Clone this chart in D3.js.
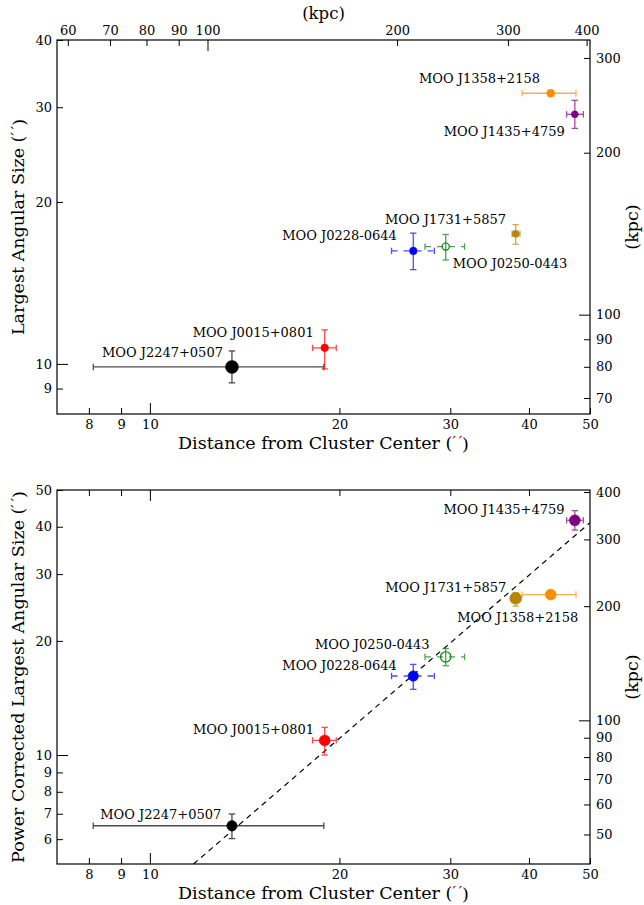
<!DOCTYPE html>
<html><head><meta charset="utf-8">
<script src="https://cdn.jsdelivr.net/npm/d3@7"></script>
<style>body{margin:0;background:#fff}</style>
</head><body><svg id="c" width="644" height="905" xmlns="http://www.w3.org/2000/svg"></svg>
<script>
// ---------------- data ----------------
const clusters = ["MOO J2247+0507","MOO J0015+0801","MOO J0228-0644","MOO J0250-0443","MOO J1731+5857","MOO J1358+2158","MOO J1435+4759"];
const distArcsec   = [13.5, 18.95, 26.2, 29.5, 38.1, 43.3, 47.3];
const distLo       = [8.13, 18.13, 24.2, 27.35, 37.6, 39.0, 45.9];
const distHi       = [18.89, 19.77, 28.3, 31.6, 38.7, 47.5, 48.8];
const lasArcsec    = [9.87, 10.71, 16.22, 16.52, 17.45, 31.85, 29.1];
const lasLo        = [9.22, 9.79, 14.97, 15.6, 16.69, 31.6, 27.4];
const lasHi        = [10.57, 11.57, 17.5, 17.4, 18.15, 32.1, 30.9];
const plasArcsec   = [6.51, 10.93, 16.16, 18.14, 25.9, 26.5, 41.6];
const plasLo       = [6.02, 10.0, 14.9, 17.2, 24.7, 26.3, 39.2];
const plasHi       = [6.99, 11.83, 17.34, 19.1, 26.8, 26.7, 44.1];
const fitX = [11.73, 50];
const fitY = [5.16, 41.0];
const kpcPerArcsec = 8.1;
const xTicks = [8, 9, 10, 20, 30, 40, 50];
const xKpcTicks = [60, 70, 80, 90, 100, 200, 300, 400];
const yTopTicks = [9, 10, 20, 30, 40];
const yTopKpcTicks = [70, 80, 90, 100, 200, 300];
const yBotTicks = [6, 7, 8, 9, 10, 20, 30, 40, 50];
const yBotKpcTicks = [50, 60, 70, 80, 90, 100, 200, 300, 400];
const xDomain = [7.12, 50];
const yTopDomain = [8.07, 40];
const yBotDomain = [5.16, 50];

// ---------------- styles ----------------
const colors = ["#000000", "#ff0000", "#0000ff", "#008000", "#b8860b", "#ff8c00", "#800080"];
const hollow = [false, false, false, true, false, false, false];
const dashedX = [false, false, true, true, false, false, false];
const rTop = [6.5, 3.8, 3.8, 3.6, 3.6, 4.0, 3.5];
const rBot = [5.2, 5.5, 5.2, 5.2, 6.0, 5.5, 5.5];
// label offsets [dx, dy(center), anchor]
const labTop = [[-9,-15,"end"],[-11,-15,"end"],[-16.5,-15.3,"end"],[7,16.6,"start"],[-9.7,-14.7,"end"],[-10.7,-14.3,"end"],[-10,16.7,"end"]];
const labBot = [[-10.6,-11.7,"end"],[-10.7,-11,"end"],[-16.4,-11,"end"],[-16.2,-12.3,"end"],[-9.4,-11,"end"],[27.6,22.4,"end"],[-10.3,-11.3,"end"]];

const FONT = "DejaVu Serif";
const svg = d3.select("#c");
svg.append("rect").attr("width",644).attr("height",905).attr("fill","#fff");

const L = 57, R = 590;
const x = d3.scaleLog().domain(xDomain).range([L, R]);

function styleAxis(g, major, attr, sign) {
  g.attr("font-family", FONT).attr("font-size", 13);
  g.select(".domain").remove();
  g.selectAll(".tick line").attr("stroke","#000").attr("stroke-width",1)
    .attr(attr, d => sign * (major.includes(d) ? 11 : 6));
  g.selectAll(".tick text").attr("fill","#000");
}

function labelWithPrimes(t, base) {
  t.append("tspan").text(base + " (");
  t.append("tspan").attr("font-style","italic").attr("dy","-0.15em").attr("font-size","0.85em").text("\u2032\u2009\u2032");
  t.append("tspan").attr("dy","0.15em").text(")");
}

function panel(top, bottom, yDomain, yTicks, yKpcTicks, yVals, yLo, yHi, rad, labs, ylabel, isTop) {
  const y = d3.scaleLog().domain(yDomain).range([bottom, top]);
  const yk = d3.scaleLog().domain(yDomain.map(v => v * kpcPerArcsec)).range([bottom, top]);
  const g = svg.append("g");
  const clipId = "clip" + top;
  svg.append("clipPath").attr("id", clipId).append("rect").attr("x", L).attr("y", top).attr("width", R - L).attr("height", bottom - top);

  // axes
  const gl = g.append("g").attr("transform", `translate(${L},0)`)
    .call(d3.axisLeft(y).tickValues(yTicks).tickFormat(d3.format("d")).tickSizeOuter(0).tickSizeInner(-6).tickPadding(5));
  styleAxis(gl, [10], "x2", 1);
  const gb = g.append("g").attr("transform", `translate(0,${bottom})`)
    .call(d3.axisBottom(x).tickValues(xTicks).tickFormat(d3.format("d")).tickSizeOuter(0).tickSizeInner(-6).tickPadding(6));
  styleAxis(gb, [10], "y2", -1);
  const gr = g.append("g").attr("transform", `translate(${R},0)`)
    .call(d3.axisRight(yk).tickValues(yKpcTicks).tickFormat(d3.format("d")).tickSizeOuter(0).tickSizeInner(-6).tickPadding(6));
  styleAxis(gr, [100], "x2", -1);
  if (isTop) {
    const xk = d3.scaleLog().domain(xDomain.map(v => v * kpcPerArcsec)).range([L, R]);
    const gt = g.append("g").attr("transform", `translate(0,${top})`)
      .call(d3.axisTop(xk).tickValues(xKpcTicks).tickFormat(d3.format("d")).tickSizeOuter(0).tickSizeInner(-6).tickPadding(5));
    styleAxis(gt, [100], "y2", 1);
  } else {
    const gt = g.append("g").attr("transform", `translate(0,${top})`)
      .call(d3.axisTop(x).tickValues(xTicks.filter(v => v < 50)).tickFormat("").tickSizeOuter(0).tickSizeInner(-6));
    styleAxis(gt, [10], "y2", 1);
  }

  // fit line
  if (!isTop) {
    g.append("path").attr("clip-path", `url(#${clipId})`)
      .datum(fitX.map((v, i) => [v, fitY[i]]))
      .attr("d", d3.line().x(d => x(d[0])).y(d => y(d[1])))
      .attr("fill","none").attr("stroke","#000").attr("stroke-width",1.2).attr("stroke-dasharray","5.5,4.5");
  }

  // error bars
  const cap = 3.2;
  clusters.forEach((c, i) => {
    const col = colors[i];
    const eb = g.append("g").attr("stroke", col).attr("stroke-width", 1.3).attr("opacity", 0.7).attr("fill","none");
    const cx = x(distArcsec[i]), cy = y(yVals[i]);
    eb.append("line").attr("x1", x(distLo[i])).attr("x2", x(distHi[i])).attr("y1", cy).attr("y2", cy)
      .attr("stroke-dasharray", dashedX[i] ? "6,6" : null);
    eb.append("line").attr("x1", x(distLo[i])).attr("x2", x(distLo[i])).attr("y1", cy - cap).attr("y2", cy + cap);
    eb.append("line").attr("x1", x(distHi[i])).attr("x2", x(distHi[i])).attr("y1", cy - cap).attr("y2", cy + cap);
    eb.append("line").attr("x1", cx).attr("x2", cx).attr("y1", y(yLo[i])).attr("y2", y(yHi[i]));
    eb.append("line").attr("x1", cx - cap).attr("x2", cx + cap).attr("y1", y(yLo[i])).attr("y2", y(yLo[i]));
    eb.append("line").attr("x1", cx - cap).attr("x2", cx + cap).attr("y1", y(yHi[i])).attr("y2", y(yHi[i]));
  });
  // markers
  clusters.forEach((c, i) => {
    const cx = x(distArcsec[i]), cy = y(yVals[i]);
    g.append("circle").attr("cx", cx).attr("cy", cy).attr("r", rad[i])
      .attr("fill", hollow[i] ? "none" : colors[i]).attr("stroke", colors[i]).attr("stroke-width", hollow[i] ? 1.2 : 0.5);
    const lb = labs[i];
    g.append("text").attr("x", cx + lb[0]).attr("y", cy + lb[1]).attr("dy","0.35em")
      .attr("text-anchor", lb[2]).attr("font-family", FONT).attr("font-size", 13).attr("fill","#000").text(c);
  });

  // spines
  g.append("rect").attr("x", L).attr("y", top).attr("width", R - L).attr("height", bottom - top)
    .attr("fill","none").attr("stroke","#000").attr("stroke-width",1.2);

  // labels
  const mid = (top + bottom) / 2;
  labelWithPrimes(g.append("text").attr("transform", `translate(18,${mid}) rotate(-90)`).attr("text-anchor","middle").attr("dy","0.35em")
    .attr("font-family", FONT).attr("font-size", 17.5), ylabel);
  g.append("text").attr("transform", `translate(632,${mid}) rotate(-90)`).attr("text-anchor","middle").attr("dy","0.35em")
    .attr("font-family", FONT).attr("font-size", 17.5).text("(kpc)");
  labelWithPrimes(g.append("text").attr("x", (L + R) / 2).attr("y", bottom + 29).attr("text-anchor","middle").attr("dy","0.35em")
    .attr("font-family", FONT).attr("font-size", 17.5), "Distance from Cluster Center");
  if (isTop) {
    g.append("text").attr("x", (L + R) / 2).attr("y", 13).attr("text-anchor","middle").attr("dy","0.35em")
      .attr("font-family", FONT).attr("font-size", 16.5).text("(kpc)");
  }
}

panel(40, 414, yTopDomain, yTopTicks, yTopKpcTicks, lasArcsec, lasLo, lasHi, rTop, labTop, "Largest Angular Size", true);
panel(490, 864, yBotDomain, yBotTicks, yBotKpcTicks, plasArcsec, plasLo, plasHi, rBot, labBot, "Power Corrected Largest Angular Size", false);
</script></body></html>
